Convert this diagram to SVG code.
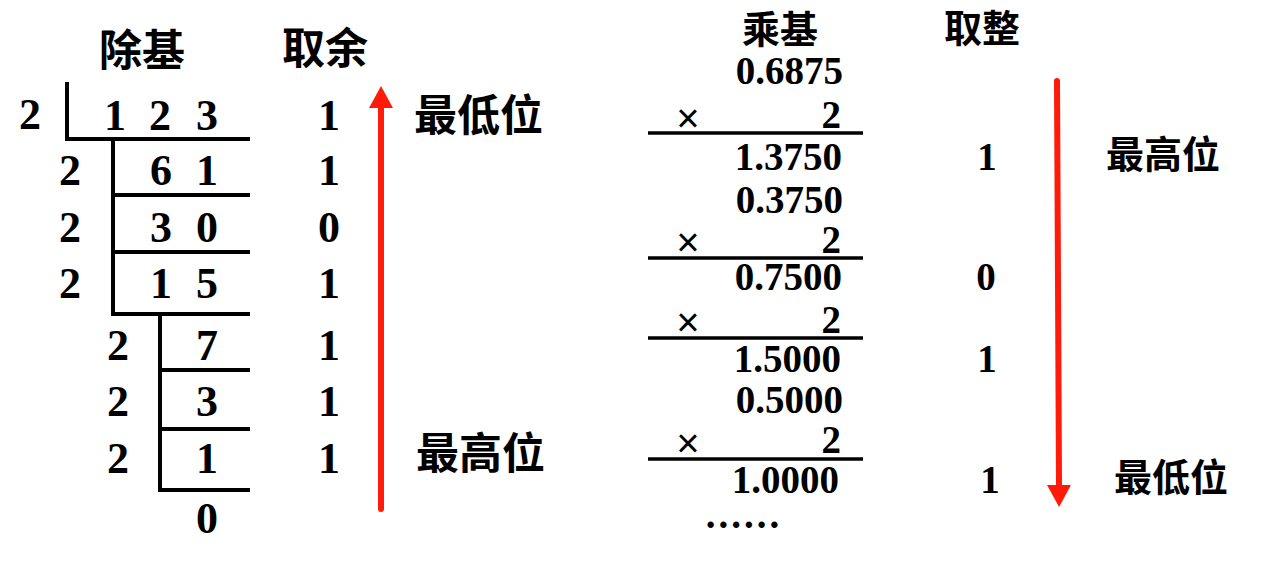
<svg xmlns="http://www.w3.org/2000/svg" width="1262" height="563" viewBox="0 0 1262 563">
<defs>
<style>
.cjkL{font-family:"Noto Sans CJK SC","Noto Sans CJK TC",sans-serif;font-weight:700;font-size:43px;fill:#000}
.cjkR{font-family:"Noto Sans CJK SC","Noto Sans CJK TC",sans-serif;font-weight:700;font-size:38px;fill:#000}
.dL{font-family:"Liberation Serif","Times New Roman",serif;font-weight:700;font-size:44px;fill:#000;text-anchor:middle}
.dR{font-family:"Liberation Serif","Times New Roman",serif;font-weight:700;font-size:39px;fill:#000;text-anchor:end}
.dC{font-family:"Liberation Serif","Times New Roman",serif;font-weight:700;font-size:39px;fill:#000;text-anchor:middle}
.times{font-family:"Liberation Sans",Arial,sans-serif;font-weight:400;font-size:40px;fill:#000;text-anchor:middle}
.ln{stroke:#000;stroke-width:4;fill:none;stroke-linecap:square}
.lnR{stroke:#000;stroke-width:3.5;fill:none}
.red{stroke:#ff1a0a;stroke-width:6;fill:none;stroke-linecap:round}
</style>
<marker id="head" viewBox="0 0 22 24" refX="1" refY="12" markerWidth="22" markerHeight="24" markerUnits="userSpaceOnUse" orient="auto">
<path d="M0,0 L22,12 L0,24 Z" fill="#ff1a0a"/>
</marker>
</defs>

<g id="left-headers">
<text class="cjkL" x="99" y="66">除基</text>
<text class="cjkL" x="282" y="64">取余</text>
</g>

<g id="division-lines">
<polyline class="ln" points="67,84 67,139 248,139"/>
<polyline class="ln" points="113,139 113,314 248,314"/>
<line class="ln" x1="113" y1="195" x2="248" y2="195"/>
<line class="ln" x1="113" y1="252" x2="248" y2="252"/>
<polyline class="ln" points="160,314 160,490 248,490"/>
<line class="ln" x1="160" y1="370" x2="248" y2="370"/>
<line class="ln" x1="160" y1="429" x2="248" y2="429"/>
</g>

<g id="division-rows">
<text class="dL" x="30" y="129">2</text>
<text class="dL" x="115" y="130">1</text>
<text class="dL" x="160" y="130">2</text>
<text class="dL" x="207" y="130">3</text>
<text class="dL" x="329" y="130">1</text>

<text class="dL" x="70" y="185">2</text>
<text class="dL" x="161" y="185">6</text>
<text class="dL" x="207" y="185">1</text>
<text class="dL" x="329" y="185">1</text>

<text class="dL" x="70" y="242">2</text>
<text class="dL" x="161" y="242">3</text>
<text class="dL" x="207" y="242">0</text>
<text class="dL" x="329" y="242">0</text>

<text class="dL" x="70" y="298">2</text>
<text class="dL" x="161" y="298">1</text>
<text class="dL" x="207" y="298">5</text>
<text class="dL" x="329" y="298">1</text>

<text class="dL" x="118" y="360">2</text>
<text class="dL" x="207" y="360">7</text>
<text class="dL" x="329" y="360">1</text>

<text class="dL" x="118" y="416">2</text>
<text class="dL" x="207" y="416">3</text>
<text class="dL" x="329" y="416">1</text>

<text class="dL" x="118" y="473">2</text>
<text class="dL" x="207" y="473">1</text>
<text class="dL" x="329" y="473">1</text>

<text class="dL" x="207" y="533">0</text>
</g>

<g id="left-labels">
<text class="cjkL" x="414" y="131">最低位</text>
<text class="cjkL" x="416" y="469">最高位</text>
</g>

<g id="right-headers">
<text class="cjkR" x="742" y="43">乘基</text>
<text class="cjkR" x="944" y="42">取整</text>
</g>

<g id="multiplication-lines">
<line class="lnR" x1="648" y1="133" x2="863" y2="133"/>
<line class="lnR" x1="648" y1="258" x2="863" y2="258"/>
<line class="lnR" x1="648" y1="338" x2="863" y2="338"/>
<line class="lnR" x1="648" y1="459" x2="863" y2="459"/>
</g>

<g id="multiplication-rows">
<text class="dR" x="843" y="84">0.6875</text>
<text class="times" x="688" y="132">×</text>
<text class="dR" x="841" y="128">2</text>
<text class="dR" x="842" y="170">1.3750</text>
<text class="dC" x="987" y="170">1</text>

<text class="dR" x="843" y="213">0.3750</text>
<text class="times" x="688" y="256">×</text>
<text class="dR" x="841" y="253">2</text>
<text class="dR" x="842" y="290">0.7500</text>
<text class="dC" x="986" y="290">0</text>

<text class="times" x="688" y="336">×</text>
<text class="dR" x="841" y="333">2</text>
<text class="dR" x="841" y="372">1.5000</text>
<text class="dC" x="987" y="372">1</text>

<text class="dR" x="843" y="413">0.5000</text>
<text class="times" x="688" y="457">×</text>
<text class="dR" x="841" y="453">2</text>
<text class="dR" x="839" y="493">1.0000</text>
<text class="dC" x="990" y="493">1</text>

<text class="dC" x="744" y="528" style="letter-spacing:3px">......</text>
</g>

<g id="right-labels">
<text class="cjkR" x="1106" y="168">最高位</text>
<text class="cjkR" x="1114" y="491">最低位</text>
</g>

<g id="connectors">
<line class="red" x1="381" y1="509" x2="381" y2="107" marker-end="url(#head)"/>
<line class="red" x1="1057" y1="81" x2="1059" y2="486" marker-end="url(#head)"/>
</g>
</svg>
